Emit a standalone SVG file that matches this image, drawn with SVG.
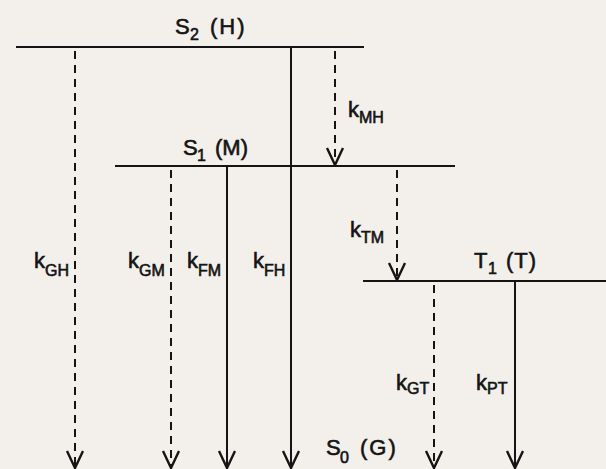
<svg xmlns="http://www.w3.org/2000/svg" width="606" height="469" viewBox="0 0 606 469">
<style>
.bg{fill:#f3f0eb}
.lvl{stroke:#141414;stroke-width:2.2;fill:none}
.ln{stroke:#141414;stroke-width:2;fill:none}
.dash{stroke-dasharray:8 6}
.t{font-family:"Liberation Sans",Arial,sans-serif;font-size:22px;fill:#141414;stroke:#141414;stroke-width:0.6}
.s{font-size:16px}
</style>
<defs>
<marker id="ah" markerUnits="userSpaceOnUse" viewBox="-1 -10 20 20" markerWidth="20" markerHeight="20" refX="17" refY="0" orient="auto">
<path d="M0,-8 L17,0 L0,8" fill="none" stroke="#141414" stroke-width="2.4" stroke-linejoin="miter"/>
</marker>
</defs>
<rect class="bg" x="0" y="0" width="606" height="469"/>

<g id="S2">
<line class="lvl" x1="16" y1="47" x2="364" y2="47"/>
<text class="t" x="175" y="34">S<tspan class="s" x="190" dy="6">2</tspan><tspan x="210" dy="-6" letter-spacing="2">(H)</tspan></text>
</g>
<g id="S1">
<line class="lvl" x1="115" y1="166" x2="455" y2="166"/>
<text class="t" x="183" y="155">S<tspan class="s" x="197" dy="6">1</tspan><tspan x="215" dy="-6">(M)</tspan></text>
</g>
<g id="T1">
<line class="lvl" x1="363" y1="281" x2="606" y2="281"/>
<text class="t" x="474" y="268">T<tspan class="s" x="488" dy="6">1</tspan><tspan x="506" dy="-6" letter-spacing="1">(T)</tspan></text>
</g>
<g id="S0">
<text class="t" x="326" y="455">S<tspan class="s" x="340" dy="8">0</tspan><tspan x="360" dy="-8" letter-spacing="2">(G)</tspan></text>
</g>

<g id="connectors">
<g id="kGH">
<line class="ln dash" x1="75" y1="51" x2="75" y2="468" marker-end="url(#ah)"/>
<text class="t" x="34" y="268">k<tspan class="s" dy="8">GH</tspan></text>
</g>
<g id="kGM">
<line class="ln dash" x1="171" y1="170" x2="171" y2="468" marker-end="url(#ah)"/>
<text class="t" x="128" y="268">k<tspan class="s" dy="8">GM</tspan></text>
</g>
<g id="kFM">
<line class="ln" x1="227" y1="166" x2="227" y2="468" marker-end="url(#ah)"/>
<text class="t" x="187" y="268">k<tspan class="s" dy="8">FM</tspan></text>
</g>
<g id="kFH">
<line class="ln" x1="291" y1="47" x2="291" y2="468" marker-end="url(#ah)"/>
<text class="t" x="253" y="268">k<tspan class="s" dy="8">FH</tspan></text>
</g>
<g id="kMH">
<line class="ln dash" x1="335" y1="51" x2="335" y2="165" marker-end="url(#ah)"/>
<text class="t" x="348" y="117">k<tspan class="s" dy="6">MH</tspan></text>
</g>
<g id="kTM">
<line class="ln dash" x1="397" y1="170" x2="397" y2="280" marker-end="url(#ah)"/>
<text class="t" x="350" y="237">k<tspan class="s" dy="6">TM</tspan></text>
</g>
<g id="kGT">
<line class="ln dash" x1="434" y1="285" x2="434" y2="468" marker-end="url(#ah)"/>
<text class="t" x="396" y="390">k<tspan class="s" dy="4">GT</tspan></text>
</g>
<g id="kPT">
<line class="ln" x1="515" y1="281" x2="515" y2="468" marker-end="url(#ah)"/>
<text class="t" x="476" y="390">k<tspan class="s" dy="4">PT</tspan></text>
</g>
</g>
</svg>
